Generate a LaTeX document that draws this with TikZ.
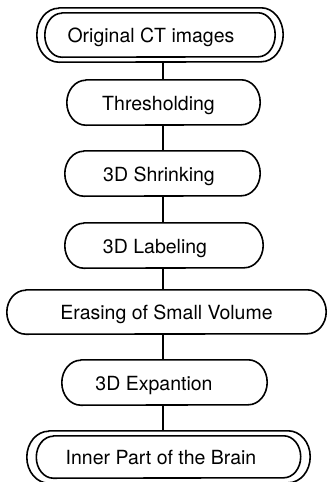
\documentclass[tikz,border=0pt]{standalone}
\usepackage{fontspec}
\setmainfont{TeX Gyre Heros}
\begin{document}
\begin{tikzpicture}[x=1pt,y=1pt]
\tikzset{
  stagebox/.style={rectangle, draw=none, inner sep=0pt, minimum width=#1},
  lbl/.style={font=\fontsize{19.5}{22}\selectfont, inner sep=0pt, anchor=base},
  outline/.style={line width=1.6pt, line join=round},
  link/.style={line width=1.3pt}
}
% capsule outline round a node: #1 node, #2 x inset, #3 y inset, #4 end x radius, #5 end y radius
\newcommand\capsule[5]{%
  \draw[outline] ([shift={(#2+#4,-#3)}]#1.north west) -- ([shift={(-#2-#4,-#3)}]#1.north east)
    arc[start angle=90, end angle=-90, x radius=#4, y radius=#5]
    -- ([shift={(#2+#4,#3)}]#1.south west)
    arc[start angle=270, end angle=90, x radius=#4, y radius=#5] -- cycle;}
\useasboundingbox (0,0) rectangle (328,-482);
\fill[white] (0,0) rectangle (328,-482);

% boxes of the pipeline
\node[stagebox=246, minimum height=54] (b1) at (160,-35) {};
\node[stagebox=193, minimum height=45] (b2) at (163.5,-102.5) {};
\node[stagebox=195, minimum height=45] (b3) at (162.5,-173.5) {};
\node[stagebox=198, minimum height=45] (b4) at (164,-245.5) {};
\node[stagebox=319, minimum height=44] (b5) at (166.5,-312) {};
\node[stagebox=205, minimum height=45] (b6) at (164.5,-382.5) {};
\node[stagebox=283, minimum height=52] (b7) at (168.5,-457) {};

% outlines: double for input and result, single for the steps
\capsule{b1}{0}{0}{22}{27}
\capsule{b1}{8}{5}{17}{22}
\capsule{b2}{0}{0}{19}{22.5}
\capsule{b3}{0}{0}{19}{22.5}
\capsule{b4}{0}{0}{19}{22.5}
\capsule{b5}{0}{0}{19}{22}
\capsule{b6}{0}{0}{19}{22.5}
\capsule{b7}{0}{0}{22}{26}
\capsule{b7}{9.5}{5}{17}{21}

% labels
\node[lbl] (t1) at (151,-42.5) {Original CT images};
\node[lbl] (t2) at (158.5,-110) {Thresholding};
\node[lbl] (t3) at (159,-181) {3D Shrinking};
\node[lbl] (t4) at (155,-253) {3D Labeling};
\node[lbl] (t5) at (166.5,-319.5) {Erasing of Small Volume};
\node[lbl] (t6) at (154,-390) {3D Expantion};
\node[lbl] (t7) at (161,-464.5) {Inner Part of the Brain};

% vertical connectors along one spine
\coordinate (spine) at (163,0);
\draw[link] (b1.south -| spine) -- (b2.north -| spine);
\draw[link] (b2.south -| spine) -- (b3.north -| spine);
\draw[link] (b3.south -| spine) -- (b4.north -| spine);
\draw[link] (b4.south -| spine) -- (b5.north -| spine);
\draw[link] (b5.south -| spine) -- (b6.north -| spine);
\draw[link] (b6.south -| spine) -- (b7.north -| spine);
\end{tikzpicture}
\end{document}
